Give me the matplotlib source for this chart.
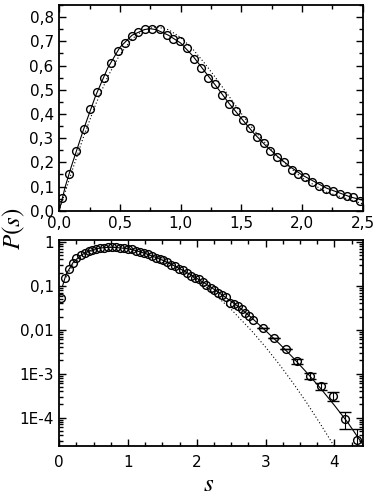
import numpy as np
import matplotlib
matplotlib.use("Agg")
import matplotlib.pyplot as plt
from matplotlib.ticker import MultipleLocator, FixedLocator, LogLocator, NullFormatter

plt.rcParams['font.family'] = ['DejaVu Sans']
plt.rcParams['mathtext.fontset'] = 'stix'

s_data = [0.025, 0.083, 0.140, 0.201, 0.251, 0.314, 0.369, 0.427, 0.482, 0.540,
          0.597, 0.652, 0.707, 0.767, 0.827, 0.886, 0.941, 0.996, 1.056, 1.114,
          1.172, 1.229, 1.285, 1.342, 1.400, 1.458, 1.513, 1.568, 1.629, 1.689,
          1.739, 1.796, 1.856, 1.914, 1.969, 2.025, 2.085, 2.140, 2.200, 2.256,
          2.310, 2.368, 2.423, 2.479]
p_data = [0.054, 0.154, 0.247, 0.337, 0.419, 0.491, 0.550, 0.612, 0.659, 0.693,
          0.720, 0.737, 0.750, 0.751, 0.751, 0.727, 0.708, 0.700, 0.672, 0.628,
          0.590, 0.550, 0.522, 0.480, 0.439, 0.411, 0.377, 0.340, 0.303, 0.279,
          0.247, 0.223, 0.200, 0.168, 0.154, 0.140, 0.120, 0.102, 0.089, 0.081,
          0.069, 0.061, 0.055, 0.040]

# extra points only visible in the log panel
s_more = [2.536, 2.593, 2.650, 2.707, 2.764, 2.821]
p_more = [0.038, 0.035, 0.029, 0.024, 0.021, 0.017]

# sparse tail with error bars
s_tail = [2.96, 3.125, 3.29, 3.455, 3.64, 3.81, 3.98, 4.15, 4.33]
p_tail = [0.0111, 0.0065, 0.00367, 0.00192, 9.0e-4, 5.3e-4, 3.15e-4, 9.5e-5, 3.1e-5]
e_tail = [0, 0, 0, 0.00027, 1.5e-4, 1.0e-4, 0.75e-4, 4.0e-5, 2.4e-5]

s_fit = [0, 0.05, 0.1, 0.2, 0.3, 0.4, 0.5, 0.6, 0.7, 0.75, 0.8, 0.9, 1.0, 1.1,
         1.2, 1.3, 1.4, 1.5, 1.6, 1.7, 1.8, 1.9, 2.0, 2.2, 2.4, 2.5, 2.6, 2.8,
         3.0, 3.2, 3.4, 3.6, 3.8, 4.0, 4.2, 4.45]
p_fit = [1e-6, 0.10, 0.183, 0.335, 0.475, 0.590, 0.675, 0.725, 0.748, 0.752,
         0.748, 0.725, 0.693, 0.640, 0.575, 0.510, 0.443, 0.382, 0.322, 0.270,
         0.224, 0.183, 0.148, 0.094, 0.057, 0.044, 0.034, 0.0185, 0.0095,
         0.0048, 0.0023, 0.00105, 4.6e-4, 1.9e-4, 7.5e-5, 2.0e-5]

s_wig = [0, 0.1, 0.2, 0.3, 0.4, 0.5, 0.6, 0.7, 0.8, 0.9, 1.0, 1.1, 1.2, 1.3,
         1.4, 1.5, 1.6, 1.8, 2.0, 2.2, 2.5, 2.8, 3.0, 3.2, 3.4, 3.6, 3.8, 4.0, 4.1]
p_wig = [1e-6, 0.156, 0.305, 0.439, 0.554, 0.645, 0.710, 0.748, 0.760, 0.748,
         0.716, 0.668, 0.608, 0.542, 0.472, 0.402, 0.336, 0.222, 0.136, 0.0773,
         0.0290, 0.00931, 0.00401, 0.00162, 6.09e-4, 2.14e-4, 7.0e-5, 2.19e-5,
         1.19e-5]

top_xticks = [0.0, 0.5, 1.0, 1.5, 2.0, 2.5]
top_yticks = [0.0, 0.1, 0.2, 0.3, 0.4, 0.5, 0.6, 0.7, 0.8]
bot_xticks = [0, 1, 2, 3, 4]
bot_yticks = [1, 0.1, 0.01, 1e-3, 1e-4]
bot_ylabels = ['1', '0,1', '0,01', '1E-3', '1E-4']


def comma(v):
    return ('%.1f' % v).replace('.', ',')


def style(ax):
    for sp in ax.spines.values():
        sp.set_linewidth(1.3)
    ax.tick_params(which='both', direction='in', top=True, right=True,
                   width=1.0, labelsize=11, pad=4)
    ax.tick_params(which='major', length=5)
    ax.tick_params(which='minor', length=3)


fig = plt.figure(figsize=(3.77, 4.96), dpi=100)

mk = dict(marker='o', ms=5.6, mfc='none', mec='black', mew=1.0, ls='none')

ax1 = fig.add_axes([0.157, 0.575, 0.805, 0.415])
ax1.plot(s_wig, p_wig, color='black', lw=0.8, ls=(0, (1, 2)))
ax1.plot(s_fit, p_fit, color='black', lw=0.8)
ax1.plot(s_data, p_data, **mk)
ax1.set_xlim(0, 2.5)
ax1.set_ylim(0, 0.85)
ax1.xaxis.set_major_locator(FixedLocator(top_xticks))
ax1.xaxis.set_minor_locator(MultipleLocator(0.25))
ax1.yaxis.set_major_locator(FixedLocator(top_yticks))
ax1.yaxis.set_minor_locator(MultipleLocator(0.05))
ax1.set_xticklabels([comma(v) for v in top_xticks])
ax1.set_yticklabels([comma(v) for v in top_yticks])
style(ax1)

ax2 = fig.add_axes([0.157, 0.1014, 0.805, 0.4147])
ax2.set_yscale('log')
ax2.plot(s_wig[1:], p_wig[1:], color='black', lw=0.8, ls=(0, (1, 2)))
ax2.plot(s_fit[1:], p_fit[1:], color='black', lw=0.8)
ax2.plot(s_data + s_more, p_data + p_more, **mk)
ax2.errorbar(s_tail, p_tail, yerr=e_tail, fmt='o', ms=5.6, mfc='none',
             mec='black', mew=1.0, ecolor='black', elinewidth=0.8, capsize=4,
             capthick=0.8)
ax2.set_xlim(0, 4.41)
ax2.set_ylim(2.3e-5, 1.1)
ax2.xaxis.set_major_locator(FixedLocator(bot_xticks))
ax2.xaxis.set_minor_locator(MultipleLocator(0.25))
ax2.yaxis.set_major_locator(FixedLocator(bot_yticks))
ax2.yaxis.set_minor_locator(LogLocator(base=10, subs=np.arange(2, 10) * 1.0, numticks=20))
ax2.yaxis.set_minor_formatter(NullFormatter())
ax2.set_xticklabels([str(v) for v in bot_xticks])
ax2.set_yticklabels(bot_ylabels)
style(ax2)
ax2.tick_params(axis='x', pad=7)

fig.text(0.038, 0.538, '$P(s)$', rotation=90, fontsize=18, ha='center', va='center')
fig.text(0.552, 0.024, '$s$', fontsize=18, ha='center', va='center')

fig.savefig('out.png', dpi=100)
